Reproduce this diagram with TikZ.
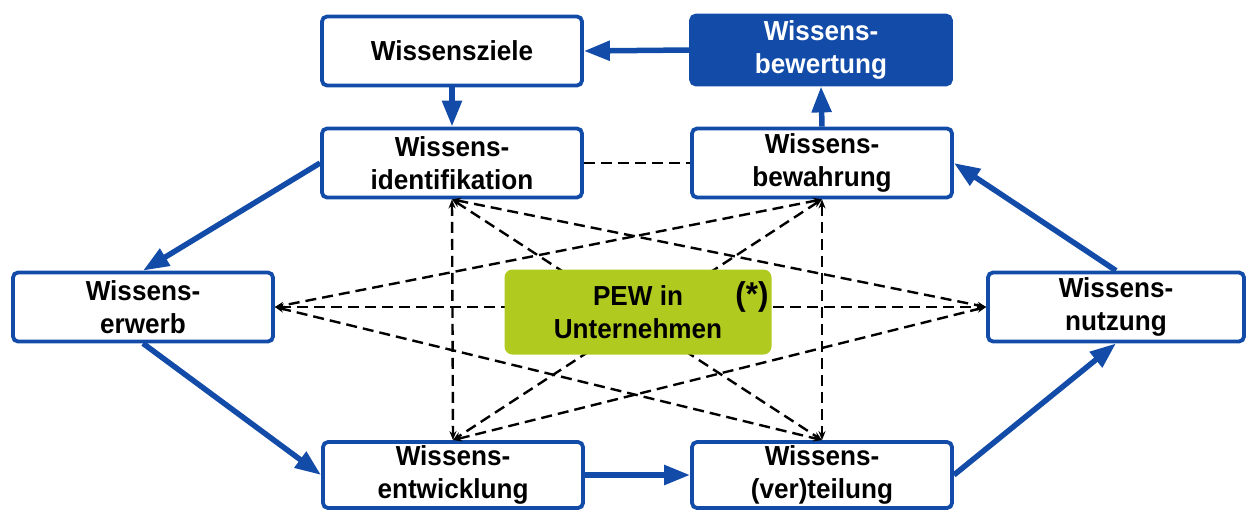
\documentclass[tikz,border=0pt]{standalone}
\usepackage{fontspec}
\setmainfont{Liberation Sans}[FakeStretch=0.95]
\usetikzlibrary{arrows.meta}
\definecolor{wblue}{RGB}{19,76,168}
\definecolor{wgreen}{RGB}{176,202,31}
\begin{document}
\begin{tikzpicture}[x=1pt,y=-1pt,
  every node/.style={font=\bfseries\fontsize{27.5}{33}\selectfont, align=center, inner sep=0pt},
  wbox/.style={draw=wblue, line width=3.8pt, rounded corners=5pt, fill=white,
               minimum width=260pt, minimum height=69pt},
  wfilled/.style={wbox, fill=wblue, text=white},
  flow/.style={draw=wblue, line width=5.5pt, -{Triangle[length=26pt,width=19pt]}},
  link/.style={draw=black, line width=2.4pt, dash pattern=on 11pt off 6pt,
               {Stealth[length=9pt,width=7pt]}-{Stealth[length=9pt,width=7pt]}},
  plainlink/.style={draw=black, line width=2.4pt, dash pattern=on 11pt off 6pt},
  hub/.style={fill=wgreen, rounded corners=8pt, minimum width=267pt, minimum height=85pt}]
\useasboundingbox (0,0) rectangle (1248,515);

% the eight building blocks
\node[wbox]    (ziele)   at (452,51)  {Wissensziele};
\node[wfilled] (bewert)  at (821,50)  {Wissens-\\bewertung};
\node[wbox]    (ident)   at (452,163) {Wissens-\\identifikation};
\node[wbox]    (bewahr)  at (822,163) {Wissens-\\bewahrung};
\node[wbox]    (erwerb)  at (143,307) {Wissens-\\erwerb};
\node[wbox, minimum width=256pt] (nutz) at (1116,307) {Wissens-\\nutzung};
\node[wbox, minimum height=66pt] (entw) at (453,475) {Wissens-\\entwicklung};
\node[wbox, minimum height=66pt] (verteil) at (822,475) {Wissens-\\(ver)teilung};

% dashed cross links between the operative blocks
\draw[plainlink] (ident.east) -- (bewahr.west);
\draw[link] (ident.south) -- (entw.north);
\draw[link] (bewahr.south) -- (verteil.north);
\draw[link] (ident.south) -- (verteil.north);
\draw[link] (bewahr.south) -- (entw.north);
\draw[link] (ident.south) -- (nutz.west);
\draw[link] (bewahr.south) -- (erwerb.east);
\draw[link] (erwerb.east) -- (nutz.west);
\draw[link] (erwerb.east) -- (verteil.north);
\draw[link] (nutz.west) -- (entw.north);

% central hub on top of the links
\node[hub] (pew) at (638,312) {PEW in\\Unternehmen};
\node[font=\bfseries\fontsize{33}{36}\selectfont] (star) at (752,297) {(*)};

% knowledge management cycle
\draw[flow] (bewert.west) -- (ziele.east);
\draw[flow] (ziele.south) -- (ident.north);
\draw[flow] (bewahr.north) -- (bewert.south);
\draw[flow] (ident.west) -- (erwerb.north);
\draw[flow] (erwerb.south) -- (entw.west);
\draw[flow] (entw.east) -- (verteil.west);
\draw[flow] (verteil.east) -- (nutz.south);
\draw[flow] (nutz.north) -- (bewahr.east);
\end{tikzpicture}
\end{document}
